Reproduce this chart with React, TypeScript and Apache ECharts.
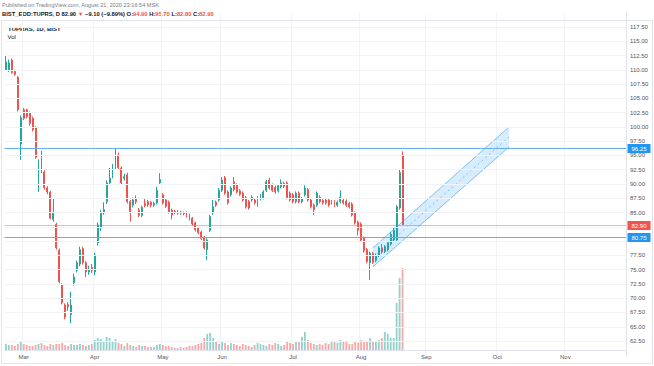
import React, { useEffect, useRef } from 'react';
import * as echarts from 'echarts';

const TOTAL_SLOTS = 210;
const categories = Array.from({ length: TOTAL_SLOTS }, (_, i) => String(i));
const monthLabels = ['Mar', 'Apr', 'May', 'Jun', 'Jul', 'Aug', 'Sep', 'Oct', 'Nov'];
const monthIndex = [6, 30, 53, 73, 97, 120, 142, 166, 189];
const priceTicks = [62.5, 65, 67.5, 70, 72.5, 75, 77.5, 80, 82.5, 85, 87.5, 90, 92.5, 95, 97.5, 100, 102.5, 105, 107.5, 110, 112.5, 115, 117.5];
// tick labels hidden behind the price boxes in the reference
const coveredTicks = [82.5, 80];

// [open, close, low, high]
const ohlc: number[][] = [
  [110.0, 111.4, 109.8, 112.6], [110.0, 111.2, 109.6, 111.8], [111.7, 109.5, 109.3, 112.0], [109.7, 109.2, 108.9, 110.0],
  [108.7, 103.0, 102.7, 108.9], [97.0, 101.6, 94.2, 102.0], [103.0, 101.5, 101.2, 103.3], [103.0, 101.8, 101.5, 103.2],
  [102.4, 100.6, 100.2, 102.7], [101.5, 99.5, 99.2, 101.8], [99.8, 94.7, 94.4, 100.1], [90.2, 93.9, 88.6, 94.3],
  [95.4, 92.1, 91.9, 95.8], [92.1, 89.4, 89.0, 92.4], [89.3, 88.6, 88.2, 89.6], [88.6, 84.0, 83.8, 88.8],
  [83.8, 85.1, 83.4, 87.5], [82.9, 78.8, 78.5, 83.2], [78.4, 72.9, 72.6, 78.7], [72.3, 69.2, 68.9, 72.6],
  [68.8, 66.7, 66.3, 69.1], [68.9, 68.5, 67.8, 69.3], [67.1, 68.8, 65.6, 71.1], [72.7, 73.7, 72.2, 74.3],
  [74.9, 76.2, 74.5, 76.6], [76.0, 78.5, 75.6, 79.0], [78.7, 76.2, 75.9, 79.0], [76.2, 74.6, 73.7, 76.5],
  [74.6, 75.1, 74.1, 75.7], [75.4, 74.9, 74.4, 76.0], [74.6, 77.6, 74.0, 78.0], [79.7, 82.8, 79.2, 83.3],
  [82.3, 84.9, 81.8, 85.4], [85.0, 85.5, 84.6, 86.8], [86.9, 90.2, 86.5, 90.6], [90.2, 91.0, 89.8, 92.8],
  [91.5, 92.8, 91.0, 93.5], [92.8, 95.1, 92.5, 96.3], [95.1, 92.9, 92.6, 95.5], [92.8, 90.2, 89.9, 93.1],
  [91.0, 91.3, 90.6, 91.8], [91.6, 86.9, 86.6, 92.0], [86.9, 84.9, 83.4, 87.2], [86.3, 87.2, 85.9, 87.6],
  [87.5, 86.9, 86.5, 88.0], [85.4, 84.5, 84.2, 85.8], [84.5, 85.9, 84.2, 86.2], [86.6, 86.2, 85.9, 87.5],
  [86.9, 86.4, 86.0, 87.2], [86.8, 86.3, 85.9, 87.0], [86.3, 86.6, 86.0, 86.9], [86.7, 88.9, 86.4, 89.5],
  [90.2, 90.8, 89.9, 91.9], [88.1, 86.7, 86.4, 88.4], [87.2, 86.1, 85.8, 87.5], [86.8, 85.1, 84.8, 87.1],
  [85.4, 84.6, 83.8, 85.7], [85.2, 85.0, 84.7, 85.5], [84.9, 85.1, 84.6, 85.4], [85.1, 84.9, 84.6, 85.3],
  [85.0, 84.8, 84.5, 85.2], [85.0, 84.4, 84.1, 85.2], [84.6, 83.9, 83.6, 84.8], [84.0, 83.0, 82.7, 84.2],
  [83.2, 82.0, 81.7, 83.4], [82.3, 81.5, 81.2, 82.5], [81.6, 80.5, 80.2, 81.8], [80.7, 78.8, 78.5, 80.9],
  [78.5, 80.2, 76.7, 80.5], [81.9, 84.3, 81.6, 84.6], [84.9, 86.0, 84.6, 87.2], [86.8, 86.3, 86.0, 87.1],
  [87.2, 88.9, 86.9, 89.3], [88.9, 90.7, 88.6, 91.2], [91.1, 88.4, 88.1, 91.4], [88.6, 86.7, 86.4, 88.9],
  [88.1, 89.3, 87.8, 89.6], [90.4, 89.0, 88.7, 91.2], [89.8, 88.6, 88.3, 90.1], [88.8, 88.2, 87.9, 89.1],
  [88.4, 87.2, 86.9, 88.7], [87.6, 86.0, 85.7, 87.9], [86.9, 85.8, 85.5, 87.2], [87.2, 87.7, 86.9, 88.0],
  [87.2, 86.7, 86.4, 87.5], [86.3, 87.6, 86.0, 87.9], [87.4, 87.9, 87.1, 88.2], [87.6, 88.6, 87.3, 88.9],
  [88.9, 90.4, 88.6, 90.7], [90.7, 89.3, 89.0, 91.1], [89.8, 88.9, 88.6, 90.1], [89.4, 88.6, 88.3, 89.7],
  [88.8, 89.7, 88.5, 90.0], [89.5, 90.2, 89.2, 90.8], [90.1, 89.6, 89.3, 90.4], [90.2, 87.6, 87.3, 90.5],
  [88.4, 87.2, 86.9, 88.7], [88.1, 86.9, 86.6, 88.4], [86.9, 88.4, 86.6, 88.7], [88.4, 86.9, 86.6, 88.7],
  [86.9, 87.4, 86.6, 87.7], [88.1, 89.3, 87.8, 89.8], [89.0, 87.2, 86.9, 89.3], [87.2, 86.0, 85.7, 87.5],
  [86.3, 85.5, 84.6, 86.6], [86.3, 88.4, 86.0, 88.7], [87.7, 86.9, 86.6, 88.0], [87.1, 86.7, 86.4, 87.4],
  [87.2, 86.7, 86.4, 87.5], [87.2, 86.3, 86.0, 87.5], [86.7, 86.9, 86.4, 87.2], [86.9, 86.3, 86.0, 87.2],
  [86.3, 86.8, 86.0, 87.1], [86.9, 87.7, 86.6, 88.9], [87.2, 86.7, 86.4, 87.5], [87.0, 86.3, 86.0, 87.3],
  [86.6, 86.0, 85.7, 86.9], [86.5, 84.6, 84.3, 86.8], [84.9, 83.2, 82.9, 85.2], [83.3, 81.9, 81.0, 83.6],
  [83.0, 80.2, 79.9, 83.3], [80.5, 78.3, 78.0, 80.8], [78.5, 76.4, 76.1, 78.8], [76.2, 77.9, 73.2, 78.2],
  [77.8, 76.3, 76.0, 78.1], [76.6, 77.5, 76.3, 77.8], [77.5, 78.8, 77.2, 79.1], [78.8, 78.1, 77.8, 79.5],
  [78.2, 79.0, 77.9, 79.3], [78.5, 79.7, 78.2, 80.0], [79.5, 81.2, 79.2, 81.6], [80.2, 81.9, 79.9, 82.3],
  [80.2, 86.0, 79.9, 86.3], [85.8, 92.0, 85.5, 92.5], [94.9, 82.9, 82.8, 95.7],
];

const volume = [
  6, 5, 5, 4, 6, 8, 6, 5, 4, 4,
  5, 6, 7, 5, 4, 6, 5, 6, 6, 7, 5, 4, 6,
  5, 5, 6, 5, 4, 5, 6, 10, 12, 11, 9, 13, 12, 8, 11,
  7, 6, 4, 7, 5, 4, 3, 5, 4, 4, 3, 3, 3, 5, 6,
  5, 4, 4, 3, 2, 2, 3, 2, 3, 4, 4, 5, 6, 7, 12, 16,
  17, 12, 9, 6, 8, 7, 5, 7, 6, 5, 4, 6, 5, 4, 3, 5, 7, 6, 5, 4, 6, 5, 7, 6, 4, 5, 8, 7,
  6, 9, 8, 13, 18, 10, 7, 6, 5, 6, 5, 7, 6, 8, 9, 7, 10, 8, 9, 6,
  6, 8, 7, 10, 9, 8, 12, 9, 8, 10, 12, 18, 16, 12, 12,
  47, 72, 82,
];

const blueLevels = [96.25, 80.75];
const lastPrice = 82.9;

const channelIndex = [124, 170];
const channelLower = [75.5, 96.5];
const channelUpper = [78.8, 100.0];

const UP = '#26a69a';
const DOWN = '#ef5350';
const LEVEL_BLUE = '#64aef2';
const FONT = '"Liberation Sans", Arial, sans-serif';

export default function App() {
  const ref = useRef<HTMLDivElement>(null);

  useEffect(() => {
    if (!ref.current) return;
    const chart = echarts.init(ref.current, undefined, { renderer: 'svg' });

    const volData = volume.map((v, i) => ({
      value: v,
      itemStyle: { color: ohlc[i][1] >= ohlc[i][0] ? 'rgba(38,166,154,0.5)' : 'rgba(239,83,80,0.5)' },
    }));

    chart.setOption({
      animation: false,
      backgroundColor: '#ffffff',
      grid: [
        { left: 4.5, right: 28, top: 12.7, bottom: 10.7 },
        { left: 4.5, right: 28, top: 240, bottom: 16 },
      ],
      xAxis: [
        {
          type: 'category', gridIndex: 0, data: categories, boundaryGap: true,
          axisLine: { show: false }, axisTick: { show: false }, axisLabel: { show: false },
          splitLine: {
            show: true,
            interval: (index: number) => monthIndex.includes(index),
            lineStyle: { color: '#f2f3f7', width: 1 },
          },
        },
        {
          type: 'category', gridIndex: 1, data: categories, boundaryGap: true,
          axisLine: { show: true, onZero: false, lineStyle: { color: '#e0e3eb', width: 1 } },
          axisTick: { show: false },
          splitLine: { show: false },
          axisLabel: {
            show: true,
            interval: (index: number) => monthIndex.includes(index),
            formatter: (_v: string, index: number) => {
              const k = monthIndex.indexOf(index);
              return k >= 0 ? monthLabels[k] : '';
            },
            fontSize: 6,
            fontFamily: FONT,
            color: '#50535e',
            margin: 4,
          },
        },
      ],
      yAxis: [
        {
          type: 'value', gridIndex: 0, position: 'right', min: 60, max: 120, interval: 2.5,
          axisLine: { show: true, lineStyle: { color: '#e0e3eb', width: 1 } },
          axisTick: { show: false },
          splitLine: { show: false },
          axisLabel: {
            show: true,
            formatter: (v: number) => (priceTicks.includes(v) && !coveredTicks.includes(v) ? v.toFixed(2) : ''),
            fontSize: 6,
            fontFamily: FONT,
            color: '#50535e',
            margin: 4,
          },
        },
        {
          type: 'value', gridIndex: 1, min: 0, max: 110, show: false,
          splitLine: { show: false },
        },
      ],
      graphic: [
        {
          type: 'rect', z: -1, silent: true,
          shape: { x: 1.5, y: 20.5, width: 651, height: 343 },
          style: { fill: 'none', stroke: '#e0e3eb', lineWidth: 1 },
        },
        {
          type: 'text', x: 2, y: 5,
          style: {
            text: 'Published on TradingView.com, August 21, 2020 23:16:54 MSK',
            fontSize: 5.6, fontFamily: FONT, fill: '#787b86', verticalAlign: 'middle',
          },
        },
        {
          type: 'text', x: 2, y: 13.5,
          style: {
            text: '{d|BIST_EOD:TUPRS, D 82.90 }{r|▼}{d| −9.10 (−9.89%) O:}{r|94.90}{d| H:}{r|95.70}{d| L:}{r|82.80}{d| C:}{r|82.90}',
            verticalAlign: 'middle',
            rich: {
              d: { fontSize: 5.8, fontFamily: FONT, fontWeight: 'bold', fill: '#131722' },
              r: { fontSize: 5.8, fontFamily: FONT, fontWeight: 'bold', fill: DOWN },
            },
          },
        },
        {
          type: 'text', x: 8, y: 28.5,
          style: { text: 'TUPRAS, 1D, BIST', fontSize: 6, fontFamily: FONT, fontWeight: 'bold', fill: '#131722', verticalAlign: 'middle' },
        },
        {
          type: 'text', x: 7.5, y: 36.5,
          style: { text: 'Vol', fontSize: 6, fontFamily: FONT, fill: '#131722', verticalAlign: 'middle' },
        },
      ],
      series: [
        {
          type: 'line', xAxisIndex: 0, yAxisIndex: 0, data: [], z: 0, silent: true,
          markLine: {
            silent: true, symbol: ['none', 'none'], label: { show: false },
            lineStyle: { color: '#f2f3f7', width: 1, type: 'solid' },
            data: priceTicks.map((v) => ({ yAxis: v })),
          },
        },
        {
          type: 'bar', xAxisIndex: 1, yAxisIndex: 1, data: volData, barWidth: '62%', z: 1, silent: true,
        },
        {
          type: 'candlestick', xAxisIndex: 0, yAxisIndex: 0, data: ohlc, barWidth: '48%', z: 3,
          itemStyle: { color: UP, color0: DOWN, borderColor: UP, borderColor0: DOWN, borderWidth: 1 },
        },
        {
          type: 'custom', xAxisIndex: 0, yAxisIndex: 0, data: [[0, 0]], z: 6, silent: true, clip: false,
          renderItem: (_params: any, api: any) => {
            const band = api.size([1, 0])[0];
            const left = api.coord([0, lastPrice])[0] - band / 2;
            const right = api.coord([TOTAL_SLOTS - 1, lastPrice])[0] + band / 2;
            const hline = (v: number, color: string, box: string) => {
              const y = Math.round(api.coord([0, v])[1]) + 0.5;
              return [
                { type: 'line', shape: { x1: left, y1: y, x2: right, y2: y }, style: { stroke: color, lineWidth: 1 } },
                {
                  type: 'text', x: right + 1.5, y,
                  style: {
                    text: v.toFixed(2), fill: '#ffffff', backgroundColor: box, fontSize: 6, fontFamily: FONT,
                    padding: [2, 4, 1, 4], verticalAlign: 'middle', align: 'left',
                  },
                },
              ];
            };
            return {
              type: 'group',
              children: [
                ...hline(lastPrice, 'rgba(239,83,80,0.45)', DOWN),
                ...hline(blueLevels[0], LEVEL_BLUE, '#2196f3'),
                ...hline(blueLevels[1], LEVEL_BLUE, '#2196f3'),
              ],
            };
          },
        },
        {
          type: 'custom', xAxisIndex: 0, yAxisIndex: 0, data: [[0, 0]], z: 4, silent: true, clip: false,
          renderItem: (_params: any, api: any) => {
            const ls = api.coord([channelIndex[0], channelLower[0]]);
            const us = api.coord([channelIndex[0], channelUpper[0]]);
            const le = api.coord([channelIndex[1], channelLower[1]]);
            const ue = api.coord([channelIndex[1], channelUpper[1]]);
            const ms = [(ls[0] + us[0]) / 2, (ls[1] + us[1]) / 2];
            const me = [(le[0] + ue[0]) / 2, (le[1] + ue[1]) / 2];
            const edge = 'rgba(33,150,243,0.55)';
            return {
              type: 'group',
              children: [
                { type: 'polygon', shape: { points: [ls, us, ue, le] }, style: { fill: 'rgba(33,150,243,0.18)', stroke: 'none' } },
                { type: 'line', shape: { x1: us[0], y1: us[1], x2: ue[0], y2: ue[1] }, style: { stroke: edge, lineWidth: 1 } },
                { type: 'line', shape: { x1: ls[0], y1: ls[1], x2: le[0], y2: le[1] }, style: { stroke: edge, lineWidth: 1 } },
                { type: 'line', shape: { x1: ms[0], y1: ms[1], x2: me[0], y2: me[1] }, style: { stroke: 'rgba(33,150,243,0.5)', lineWidth: 1, lineDash: [2, 3] } },
              ],
            };
          },
        },
      ],
    });

    return () => chart.dispose();
  }, []);

  return <div ref={ref} style={{ position: 'fixed', left: 0, top: 0, width: 654, height: 366 }} />;
}
